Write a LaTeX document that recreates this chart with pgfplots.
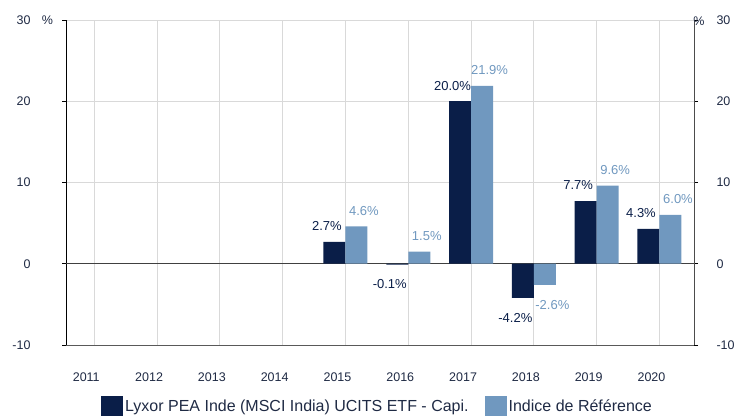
\documentclass[border=0pt]{standalone}
\usepackage{fontspec}
\setmainfont{Liberation Sans}
\usepackage{pgfplots}
\pgfplotsset{compat=1.18}
\definecolor{dark}{HTML}{0A1E48}
\definecolor{light}{HTML}{7098BF}
\definecolor{gridc}{HTML}{D9D9D9}
\definecolor{txt}{HTML}{1F2A44}
\begin{document}
\begin{tikzpicture}[x=1pt,y=1pt]
\path[use as bounding box] (0,0) rectangle (736,415);
\begin{axis}[
  at={(66pt,70pt)}, anchor=south west,
  scale only axis, width=628pt, height=325pt,
  xmin=-0.45, xmax=9.55, ymin=-10, ymax=30,
  /pgf/number format/assume math mode=true,
  ybar=0pt, bar width=22pt,
  axis lines*=left, axis line style={-},
  y axis line style={black, line width=1pt},
  x axis line style={gray!70!black, line width=1pt},
  xtick={0,...,9}, xticklabels={2011,2012,2013,2014,2015,2016,2017,2018,2019,2020},
  ytick={-10,0,10,20,30},
  xmajorgrids, ymajorgrids, grid style={gridc, line width=0.8pt},
  xtick style={draw=none},
  ytick style={black, line width=0.8pt},
  tick align=outside, major tick length=4pt,
  extra y ticks={0}, extra y tick labels={},
  extra y tick style={grid style={black!75, line width=1pt}, ytick style={draw=none}},
  xticklabel style={font=\fontsize{12.5}{14}\selectfont, text=txt, yshift=-20pt, xshift=-8pt},
  yticklabel style={font=\fontsize{12.5}{14}\selectfont, text=txt, xshift=-28pt},
  nodes near coords={\pgfmathprintnumber[fixed,fixed zerofill,precision=1,assume math mode=true]{\pgfplotspointmeta}\%},
  every node near coord/.append style={font=\fontsize{13}{15}\selectfont, inner ysep=11pt, text height=13pt, text depth=0pt},
  legend style={at={(0.496,-0.188)}, anchor=center, legend columns=2, draw=none, fill=none,
    font=\fontsize{16}{18}\selectfont, text=txt,
    /tikz/every even column/.append style={column sep=14pt}},
  legend image code/.code={\fill[#1] (0pt,-10pt) rectangle (22pt,10pt);},
]
\addplot[fill=dark, draw=none,
  every node near coord/.append style={text=dark, xshift=-7.5pt}]
  coordinates {(4,2.7) (5,-0.1) (6,20.0) (7,-4.2) (8,7.7) (9,4.3)};
\addlegendentry{Lyxor PEA Inde (MSCI India) UCITS ETF - Capi.}
\addplot[fill=light, draw=none,
  every node near coord/.append style={text=light, xshift=7.5pt}]
  coordinates {(4,4.6) (5,1.5) (6,21.9) (7,-2.6) (8,9.6) (9,6.0)};
\addlegendentry{Indice de Référence}
\end{axis}
\begin{axis}[
  at={(66pt,70pt)}, anchor=south west,
  scale only axis, width=628pt, height=325pt,
  xmin=-0.45, xmax=9.55, ymin=-10, ymax=30,
  /pgf/number format/assume math mode=true,
  axis y line*=right, axis x line=none,
  y axis line style={gray!60!black, line width=1pt, -},
  ytick={-10,0,10,20,30},
  ytick style={black, line width=0.8pt},
  tick align=outside, major tick length=4pt,
  yticklabel style={font=\fontsize{12.5}{14}\selectfont, text=txt, xshift=15pt},
]
\addplot[draw=none] coordinates {(0,0)};
\end{axis}
\node[font=\fontsize{12.5}{14}\selectfont, text=txt] at (47.5,395) {\%};
\node[font=\fontsize{12.5}{14}\selectfont, text=txt] at (699,394) {\%};
\end{tikzpicture}
\end{document}
